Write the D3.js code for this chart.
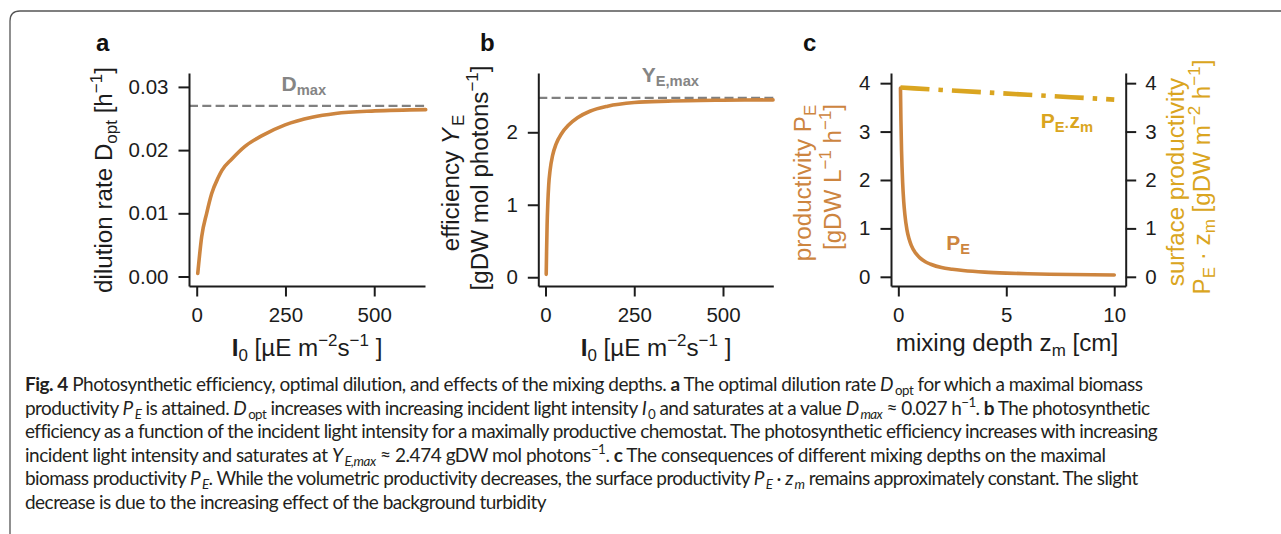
<!DOCTYPE html>
<html>
<head>
<meta charset="utf-8">
<script src="https://cdn.jsdelivr.net/npm/d3@7"></script>
<style>
  body { margin: 0; background: #fff; }
  svg { display: block; }
</style>
</head>
<body>
<script>
// ---- data ----
// panel a: optimal dilution rate vs incident light
var lightA = [3, 14, 28, 42, 61, 71, 99, 136, 184, 249, 325, 391, 502, 645];
var dilution = [0.0005, 0.0063, 0.0100, 0.0131, 0.0157, 0.0168, 0.0186, 0.0206, 0.0223, 0.0240, 0.0252, 0.0258, 0.0262, 0.0264];
var D_MAX = 0.027;

// panel b: photosynthetic efficiency vs incident light
var lightB = [2, 3, 4.5, 6.5, 9, 13, 20, 30, 45, 65, 90, 125, 175, 250, 345, 500, 641];
var efficiency = [0.04, 0.35, 0.72, 1.02, 1.27, 1.48, 1.68, 1.84, 1.98, 2.10, 2.20, 2.29, 2.36, 2.41, 2.43, 2.443, 2.447];
var YE_MAX = 2.474;

// panel c: productivity vs mixing depth
var depthPE = [0.1, 0.12, 0.15, 0.2, 0.25, 0.3, 0.4, 0.5, 0.6, 0.8, 1, 1.25, 1.5, 2, 2.5, 3, 4, 5, 6, 7, 8, 9, 10];
var productivity = [3.90, 3.25, 2.60, 1.95, 1.56, 1.30, 0.97, 0.78, 0.65, 0.49, 0.39, 0.31, 0.26, 0.19, 0.155, 0.13, 0.096, 0.076, 0.063, 0.054, 0.047, 0.041, 0.037];
var depthSurf = [0.1, 2, 4, 6, 8, 10];
var surfaceProd = [3.91, 3.86, 3.81, 3.76, 3.71, 3.66];

// tick labels
var ticksLight = [0, 250, 500];
var ticksDil = [0, 0.01, 0.02, 0.03];
var ticksEff = [0, 1, 2];
var ticksDepth = [0, 5, 10];
var ticksProd = [0, 1, 2, 3, 4];

// caption, one array per printed line
var captionLines = [
  [["Fig. 4", "b"], "  Photosynthetic efficiency, optimal dilution, and effects of the mixing depths. ", ["a", "b"], " The optimal dilution rate ", ["D", "i"], ["opt", "sub"], " for which a maximal biomass"],
  ["productivity ", ["P", "i"], ["E", "sub i"], " is attained. ", ["D", "i"], ["opt", "sub"], " increases with increasing incident light intensity ", ["I", "i"], ["0", "sub"], " and saturates at a value ", ["D", "i"], ["max", "sub i"], " \u2248 0.027 h", ["\u22121", "sup"], ". ", ["b", "b"], " The photosynthetic"],
  ["efficiency as a function of the incident light intensity for a maximally productive chemostat. The photosynthetic efficiency increases with increasing"],
  ["incident light intensity and saturates at ", ["Y", "i"], ["E,max", "sub i"], " \u2248 2.474 gDW mol photons", ["\u22121", "sup"], ". ", ["c", "b"], " The consequences of different mixing depths on the maximal"],
  ["biomass productivity ", ["P", "i"], ["E", "sub i"], ". While the volumetric productivity decreases, the surface productivity ", ["P", "i"], ["E", "sub i"], " \u00b7 ", ["z", "i"], ["m", "sub i"], " remains approximately constant. The slight"],
  ["decrease is due to the increasing effect of the background turbidity"]
];
var captionEnds = [1140, 1142, 1156, 1103, 1133];

// ---- drawing ----
var W = 1281, H = 534;
var PERU = "#cd853f", GOLD = "#daa520", GREY = "#858585", INK = "#1c1c1c";
var FS = 20.5;   // tick labels
var LS = 24.2;   // axis labels
var FONT = "'Liberation Sans', Arial, sans-serif";

var svg = d3.select("body").append("svg")
  .attr("width", W).attr("height", H)
  .attr("font-family", FONT);

// frame around figure + caption
svg.append("path")
  .attr("d", "M10," + H + "V21Q10,11 20,11H" + W)
  .attr("fill", "none").attr("stroke", "#555").attr("stroke-width", 1.3);

// mixed text with sub/superscripts
function rich(text, parts, fs, gap) {
  var prevItalic = false;
  parts.forEach(function(p) {
    var str = Array.isArray(p) ? p[0] : p;
    var kind = Array.isArray(p) && p[1] ? p[1].split(" ") : [];
    var ts = text.append("tspan").text(str);
    var isSub = kind.indexOf("sub") >= 0;
    if (isSub) {
      ts.attr("font-size", fs * 0.7).style("baseline-shift", (-fs * 0.2) + "px");
      if (prevItalic) ts.attr("dx", fs * (gap || 0.08));
    }
    if (kind.indexOf("sup") >= 0) ts.attr("font-size", fs * 0.7).style("baseline-shift", (fs * 0.42) + "px");
    if (kind.indexOf("b") >= 0) ts.attr("font-weight", "bold");
    prevItalic = kind.indexOf("i") >= 0 && !isSub;
    if (kind.indexOf("i") >= 0) ts.attr("font-style", "italic");
  });
  return text;
}

function yLabel(x, y, parts, color) {
  var t = svg.append("text")
    .attr("transform", "translate(" + x + "," + y + ") rotate(-90)")
    .attr("text-anchor", "middle").attr("font-size", LS).attr("fill", color || INK);
  rich(t, parts, LS);
}

function xLabel(x, y, parts) {
  var t = svg.append("text").attr("x", x).attr("y", y)
    .attr("text-anchor", "middle").attr("font-size", LS).attr("fill", INK);
  rich(t, parts, LS);
}

function styleAxis(g) {
  g.attr("font-size", FS).attr("font-family", FONT);
  g.select(".domain").attr("stroke", INK).attr("stroke-width", 2);
  g.selectAll(".tick line").attr("stroke", INK).attr("stroke-width", 2);
  g.selectAll(".tick text").attr("fill", INK);
}

function axes(x, y, xt, yt, yfmt) {
  svg.append("g").attr("transform", "translate(0," + y.range()[0] + ")")
    .call(d3.axisBottom(x).tickValues(xt).tickSize(10.5).tickPadding(10.5).tickSizeOuter(0))
    .call(styleAxis);
  svg.append("g").attr("transform", "translate(" + x.range()[0] + ",0)")
    .call(d3.axisLeft(y).tickValues(yt).tickSize(10.5).tickPadding(10).tickSizeOuter(0).tickFormat(yfmt))
    .call(styleAxis);
}

function curve(x, y, xs, ys, color, width, dash) {
  var line = d3.line()
    .x(function(d) { return x(d[0]); })
    .y(function(d) { return y(d[1]); })
    .curve(d3.curveMonotoneX);
  var p = svg.append("path").datum(d3.zip(xs, ys))
    .attr("d", line).attr("fill", "none")
    .attr("stroke", color).attr("stroke-width", width)
    .attr("stroke-linejoin", "round");
  if (dash) p.attr("stroke-dasharray", dash).attr("stroke-linecap", "butt");
  else p.attr("stroke-linecap", "round");
}

function refLine(x, y, v) {
  svg.append("line")
    .attr("x1", x.range()[0]).attr("x2", x.range()[1])
    .attr("y1", y(v)).attr("y2", y(v))
    .attr("stroke", "#808080").attr("stroke-width", 2.2)
    .attr("stroke-dasharray", "9,4.3");
}

function note(x, y, parts, color, fs) {
  var t = svg.append("text").attr("x", x).attr("y", y)
    .attr("font-size", fs).attr("font-weight", "bold").attr("fill", color);
  rich(t, parts, fs);
}

function letter(x, s) {
  svg.append("text").attr("x", x).attr("y", 50.5)
    .attr("font-size", 24).attr("font-weight", "bold").attr("fill", "#111").text(s);
}

var lightLabel = [["I", "b"], ["0", "sub"], " [\u00b5E m", ["\u22122", "sup"], "s", ["\u22121", "sup"], " ]"];

// panel a
var xA = d3.scaleLinear().domain([-21.7, 643]).range([189, 425]);
var yA = d3.scaleLinear().domain([-0.0015, 0.0322]).range([286, 73]);
refLine(xA, yA, D_MAX);
curve(xA, yA, lightA, dilution, PERU, 3.6);
axes(xA, yA, ticksLight, ticksDil, d3.format(".2f"));
note(xA(239), yA(0.0293), ["D", ["max", "sub"]], GREY, 21);
yLabel(112, 180, ["dilution rate D", ["opt", "sub"], " [h", ["\u22121", "sup"], "]"]);
xLabel(307, 356, lightLabel);
letter(96, "a");

// panel b
var xB = d3.scaleLinear().domain([-20.3, 641.7]).range([538.3, 773.3]);
var yB = d3.scaleLinear().domain([-0.121, 2.818]).range([286, 73]);
refLine(xB, yB, YE_MAX);
curve(xB, yB, lightB, efficiency, PERU, 3.6);
axes(xB, yB, ticksLight, ticksEff, d3.format("d"));
note(xB(271), yB(2.694), ["Y", ["E,max", "sub"]], GREY, 21);
yLabel(459, 183, ["efficiency ", ["Y", "i"], ["E", "sub"]]);
yLabel(488, 178, ["[gDW mol photons", ["\u22121", "sup"], "]"]);
xLabel(656, 356, lightLabel);
letter(480, "b");

// panel c (twin y axes share one scale)
var xC = d3.scaleLinear().domain([-0.339, 10.53]).range([891, 1125.7]);
var yC = d3.scaleLinear().domain([-0.19, 4.21]).range([286, 73]);
curve(xC, yC, depthPE, productivity, PERU, 3.6);
curve(xC, yC, depthSurf, surfaceProd, GOLD, 4.6, "29,9,4.5,9");
axes(xC, yC, ticksDepth, ticksProd, d3.format("d"));
svg.append("g").attr("transform", "translate(" + xC.range()[1] + ",0)")
  .call(d3.axisRight(yC).tickValues(ticksProd).tickSize(10.5).tickPadding(9).tickSizeOuter(0).tickFormat(d3.format("d")))
  .call(styleAxis);
note(xC(6.6), yC(3.08), ["P", ["E\u00b7", "sub"], "z", ["m", "sub"]], GOLD, 21);
note(xC(2.22), yC(0.56), ["P", ["E", "sub"]], PERU, 21);
yLabel(811, 183, ["productivity P", ["E", "sub"]], PERU);
yLabel(841, 177, ["[gDW L", ["\u22121", "sup"], " h", ["\u22121", "sup"], "]"], PERU);
yLabel(1184, 182, ["surface productivity"], GOLD);
yLabel(1210, 177, ["P", ["E", "sub"], " \u00b7 z", ["m", "sub"], " [gDW m", ["\u22122", "sup"], " h", ["\u22121", "sup"], "]"], GOLD);
xLabel(1007, 351, ["mixing depth z", ["m", "sub"], " [cm]"]);
letter(803, "c");

// caption: widths matched with letter-spacing so glyph positions stay real
var cap = svg.append("g")
  .attr("font-family", "Lato, 'Open Sans', sans-serif")
  .attr("font-size", 19).attr("fill", "#231f20");
var spacings = [];
captionLines.forEach(function(parts, i) {
  var t = cap.append("text").attr("x", 25).attr("y", 391 + i * 23.6);
  rich(t, parts, 19, 0.1);
  var natural = t.node().getComputedTextLength();
  var chars = t.text().length;
  var ls = i < captionEnds.length ? (captionEnds[i] - 25 - natural) / chars : d3.mean(spacings);
  spacings.push(ls);
  t.attr("letter-spacing", ls);
});
</script>
</body>
</html>
